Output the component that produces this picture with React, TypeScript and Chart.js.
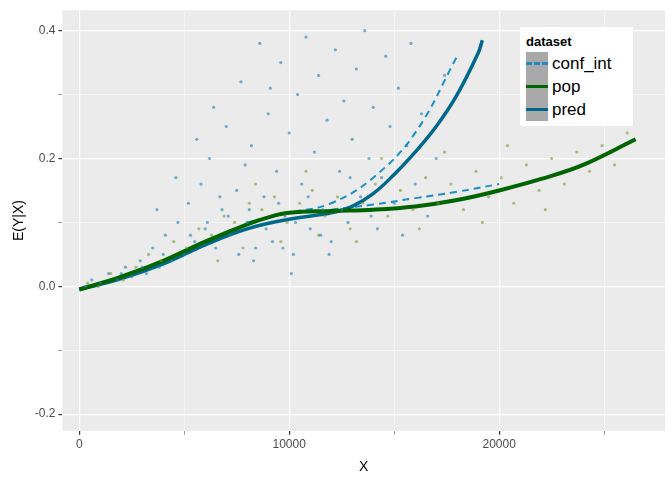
import React, { useEffect, useRef } from "react";
import { Chart, registerables } from "chart.js";

Chart.register(...registerables);

// fitted curves (x, E(Y|X))
const popX = [0, 2000, 4000, 6000, 8000, 9000, 10000, 12000, 14000, 16000, 18000, 20000, 22000, 24000, 26500];
const popY = [-0.005, 0.015, 0.04, 0.07, 0.097, 0.108, 0.115, 0.118, 0.12, 0.125, 0.135, 0.15, 0.168, 0.19, 0.23];
const predX = [0, 2000, 4000, 6000, 8000, 10000, 12000, 13000, 14000, 15000, 16000, 17000, 18000, 19000, 19200];
const predY = [-0.005, 0.012, 0.035, 0.065, 0.09, 0.105, 0.115, 0.125, 0.145, 0.175, 0.21, 0.25, 0.3, 0.365, 0.385];
const ciUpX = [8000, 10000, 12000, 14000, 16000, 18000];
const ciUpY = [0.1, 0.115, 0.13, 0.17, 0.24, 0.36];
const ciLoX = [12000, 14000, 16000, 18000, 20000];
const ciLoY = [0.12, 0.128, 0.138, 0.148, 0.16];

// scattered observations (x in thousands, y)
const predPts: number[][] = [
  [0.3, 0.0], [0.6, 0.01], [1, 0.005], [1.4, 0.02], [1.8, 0.01], [2.2, 0.03], [2.5, 0.015], [2.9, 0.04], [3.2, 0.02],
  [3.5, 0.06], [3.8, 0.03], [4.1, 0.08], [4.4, 0.04], [4.7, 0.1], [5, 0.05], [5.2, 0.13], [5.5, 0.07], [5.8, 0.16],
  [6, 0.09], [6.2, 0.2], [6.5, 0.06], [6.8, 0.12], [7, 0.25], [7.2, 0.08], [7.5, 0.15], [7.7, 0.32], [8, 0.1],
  [8.2, 0.22], [8.4, 0.06], [8.6, 0.38], [8.8, 0.14], [9, 0.27], [9.2, 0.07], [9.4, 0.18], [9.6, 0.35], [9.8, 0.11],
  [10, 0.24], [10.2, 0.05], [10.4, 0.3], [10.6, 0.16], [10.8, 0.39], [11, 0.09], [11.2, 0.21], [11.4, 0.33], [11.6, 0.12],
  [11.8, 0.26], [12, 0.07], [12.2, 0.37], [12.4, 0.18], [12.6, 0.29], [12.8, 0.1], [13, 0.23], [13.2, 0.34], [13.4, 0.14],
  [13.6, 0.4], [13.8, 0.2], [14, 0.28], [14.2, 0.09], [14.4, 0.17], [14.6, 0.36], [14.8, 0.25], [15, 0.13], [15.2, 0.31],
  [15.4, 0.08], [15.6, 0.22], [15.8, 0.38], [16, 0.16], [16.3, 0.27], [16.6, 0.11], [17, 0.2], [17.4, 0.33], [6.4, 0.28],
  [7.9, 0.19], [9.1, 0.31], [10.9, 0.14], [12.9, 0.17], [5.6, 0.23], [4.6, 0.17], [3.7, 0.12], [8.3, 0.04], [10.1, 0.02],
  [2.0, 0.02], [3.0, 0.03], [4.0, 0.05], [5.3, 0.08], [6.1, 0.1], [7.1, 0.11], [8.1, 0.12], [9.5, 0.13], [10.3, 0.1],
  [11.5, 0.08], [12.5, 0.12], [13.9, 0.11], [7.6, 0.05], [9.7, 0.06], [11.9, 0.05], [6.7, 0.14], [8.9, 0.09],
];
const popPts: number[][] = [
  [0.4, 0.005], [0.9, 0.0], [1.5, 0.02], [2.1, 0.01], [2.7, 0.03], [3.3, 0.05], [3.9, 0.04], [4.5, 0.07], [5.1, 0.06],
  [5.7, 0.09], [6.3, 0.08], [6.9, 0.11], [7.4, 0.1], [8.1, 0.13], [8.7, 0.12], [9.3, 0.14], [9.9, 0.1], [10.5, 0.13],
  [11.1, 0.15], [11.7, 0.11], [12.3, 0.14], [12.9, 0.09], [13.5, 0.13], [14.1, 0.16], [14.7, 0.11], [15.3, 0.15],
  [15.9, 0.12], [16.5, 0.17], [17.1, 0.13], [17.7, 0.16], [18.3, 0.12], [18.9, 0.18], [19.5, 0.14], [20.1, 0.17],
  [20.7, 0.13], [21.3, 0.19], [21.9, 0.15], [22.5, 0.2], [23.1, 0.16], [23.7, 0.21], [24.3, 0.18], [24.9, 0.22],
  [25.5, 0.19], [26.1, 0.24], [6.6, 0.04], [7.8, 0.06], [9.6, 0.07], [11.4, 0.08], [13.2, 0.07], [16.2, 0.09],
  [19.2, 0.1], [22.2, 0.12], [8.4, 0.16], [10.8, 0.18], [14.4, 0.2], [17.4, 0.21], [20.4, 0.22],
];

const App = () => {
  const chartRef = useRef<HTMLCanvasElement>(null);

  useEffect(() => {
    document.body.style.margin = "0";
    if (!chartRef.current) return;
    const line = (xs: number[], ys: number[]) => xs.map((x, i) => ({ x, y: ys[i] }));
    const pts = (p: number[][]) => p.map(([x, y]) => ({ x: x * 1000, y }));

    const panelBg = {
      id: "panelBg",
      beforeDraw: (c: any) => {
        const { ctx, chartArea: a } = c;
        ctx.save();
        ctx.fillStyle = "#EBEBEB";
        ctx.fillRect(a.left, a.top, a.right - a.left, a.bottom - a.top);
        ctx.restore();
      },
    };

    const chart = new Chart(chartRef.current, {
      type: "scatter",
      data: {
        datasets: [
          { data: pts(predPts), pointRadius: 1.6, pointBackgroundColor: "rgba(30,130,170,0.6)", pointBorderWidth: 0 },
          { data: pts(popPts), pointRadius: 1.6, pointBackgroundColor: "rgba(110,150,40,0.55)", pointBorderWidth: 0 },
          { data: line(popX, popY), showLine: true, borderColor: "#006400", borderWidth: 4, pointRadius: 0, tension: 0.4 },
          { data: line(predX, predY), showLine: true, borderColor: "#00688B", borderWidth: 3.5, pointRadius: 0, tension: 0.4 },
          { data: line(ciUpX, ciUpY), showLine: true, borderColor: "#1C8FC9", borderWidth: 2, borderDash: [7, 5], pointRadius: 0, tension: 0.4 },
          { data: line(ciLoX, ciLoY), showLine: true, borderColor: "#1C8FC9", borderWidth: 2, borderDash: [7, 5], pointRadius: 0, tension: 0.4 },
        ],
      },
      options: {
        animation: false,
        responsive: false,
        layout: { padding: { top: 5, right: 7, left: 7 } },
        plugins: { legend: { display: false }, tooltip: { enabled: false } },
        scales: {
          x: {
            type: "linear", min: -800, max: 27900,
            afterBuildTicks: (s: any) => { s.ticks = [0, 5000, 10000, 15000, 20000, 25000].map((v) => ({ value: v })); },
            grid: { color: "#FFFFFF", lineWidth: (c: any) => (c.tick && c.tick.value % 10000 === 0 ? 1.2 : 0.5), tickColor: "#333", tickLength: 4 },
            border: { display: false },
            ticks: { color: "#4D4D4D", font: { size: 12, family: "Liberation Sans" }, callback: (v: any) => (v % 10000 === 0 ? String(v) : "") },
            title: { display: true, text: "X", color: "#000", font: { size: 14, family: "Liberation Sans" } },
          },
          y: {
            min: -0.226, max: 0.432,
            afterBuildTicks: (s: any) => { s.ticks = [-0.2, -0.1, 0, 0.1, 0.2, 0.3, 0.4].map((v) => ({ value: v })); },
            grid: { color: "#FFFFFF", lineWidth: (c: any) => (c.tick && Math.round(c.tick.value * 10) % 2 === 0 ? 1.2 : 0.5), tickColor: "#333", tickLength: 4 },
            border: { display: false },
            ticks: { color: "#4D4D4D", font: { size: 12, family: "Liberation Sans" }, callback: (v: any) => (Math.round(v * 10) % 2 === 0 ? (Math.abs(v) < 1e-9 ? "0.0" : v.toFixed(1)) : "") },
            title: { display: true, text: "E(Y|X)", color: "#000", font: { size: 14, family: "Liberation Sans" } },
          },
        },
      },
      plugins: [panelBg],
    });
    return () => chart.destroy();
  }, []);

  const key = (color: string, dashed: boolean, label: string) => (
    <div style={{ display: "flex", alignItems: "center", height: 23 }}>
      <div style={{ width: 22, height: 23, background: "#A9A9A9", position: "relative", marginRight: 4 }}>
        <div style={{ position: "absolute", left: 0, right: 0, top: 10, borderTop: `3px ${dashed ? "dashed" : "solid"} ${color}` }} />
      </div>
      <span style={{ fontSize: 17 }}>{label}</span>
    </div>
  );

  return (
    <div style={{ width: 672, height: 480, position: "relative", background: "#fff", fontFamily: "Liberation Sans, Arial, sans-serif" }}>
      <canvas ref={chartRef} width={672} height={480} />
      <div style={{ position: "absolute", left: 520, top: 27, width: 113, background: "#fff", padding: "7px 6px 5px 6px", boxSizing: "border-box" }}>
        <div style={{ fontWeight: "bold", fontSize: 13, marginBottom: 3 }}>dataset</div>
        {key("#1C8FC9", true, "conf_int")}
        {key("#006400", false, "pop")}
        {key("#00688B", false, "pred")}
      </div>
    </div>
  );
};

export default App;
